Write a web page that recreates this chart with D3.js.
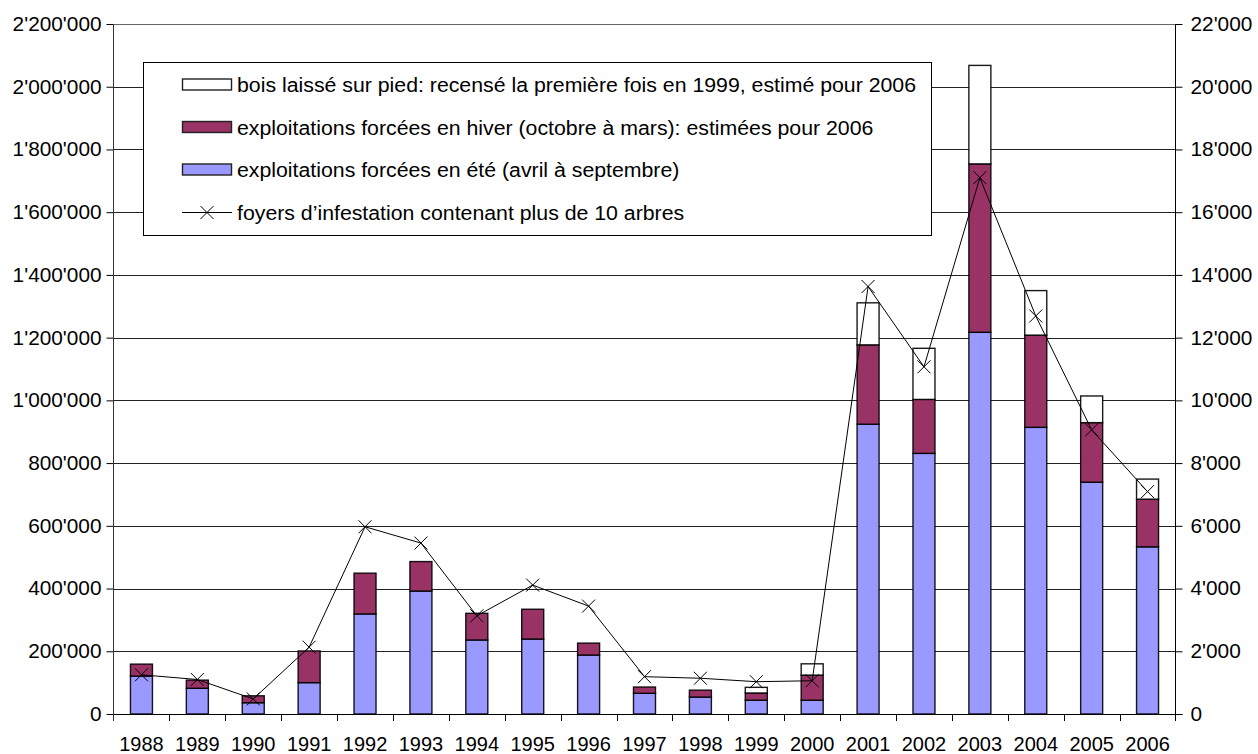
<!DOCTYPE html>
<html lang="fr">
<head>
    <meta charset="UTF-8">
    <title>Bostryche - exploitations forcées</title>
    <script src="https://d3js.org/d3.v7.min.js" charset="utf-8"></script>
    <style>
        body { margin: 0; background: white; }
        svg { display: block; font-family: "Liberation Sans", Arial, sans-serif; }
        .axis text { font-size: 20px; fill: #000; }
        .legend text { font-size: 20px; fill: #000; }
    </style>
</head>
<body>
<div id="chart"></div>
<script>
    // years on the x axis
    var annees = ['1988','1989','1990','1991','1992','1993','1994','1995','1996','1997',
                  '1998','1999','2000','2001','2002','2003','2004','2005','2006'];
    // exploitations forcées en été (m3)
    var ete = [121000, 82000, 36000, 100000, 319000, 392000, 236000, 239000, 188000, 66000,
               54000, 44000, 44000, 924000, 831000, 1217000, 914000, 739000, 533000];
    // exploitations forcées en hiver (m3)
    var hiver = [38000, 26000, 22000, 101000, 130000, 94000, 85000, 95000, 38000, 20000,
                 22000, 23000, 80000, 253000, 172000, 537000, 294000, 190000, 152000];
    // bois laissé sur pied (m3)
    var pied = [0, 0, 0, 0, 0, 0, 0, 0, 0, 0,
                0, 18000, 36000, 134000, 163000, 314000, 142000, 85000, 64000];
    // foyers d'infestation (right axis)
    var foyers = [1250, 1100, 480, 2130, 5970, 5450, 3130, 4110, 3440, 1190,
                  1140, 1030, 1060, 13630, 11070, 17100, 12690, 9060, 7090];

    var leftTicks = d3.range(0, 2200001, 200000);
    var rightTicks = d3.range(0, 22001, 2000);

    var legendLabels = [
        'bois laissé sur pied: recensé la première fois en 1999, estimé pour 2006',
        'exploitations forcées en hiver (octobre à mars): estimées pour 2006',
        'exploitations forcées en été (avril à septembre)',
        'foyers d\u2019infestation contenant plus de 10 arbres'
    ];

    var width = 1258, height = 754;
    var plotLeft = 113.5, plotRight = 1175.5, plotTop = 24, plotBottom = 714;

    var fmt = d3.formatLocale({decimal: '.', thousands: "'", grouping: [3], currency: ['', '']}).format(',');

    var svg = d3.select('#chart').append('svg')
        .attr('width', width)
        .attr('height', height);

    var x = d3.scaleBand().domain(annees).range([plotLeft, plotRight]);
    var y = d3.scaleLinear().domain([0, 2200000]).range([plotBottom, plotTop]);
    var y2 = d3.scaleLinear().domain([0, 22000]).range([plotBottom, plotTop]);

    var colors = {ete: '#9999ff', hiver: '#993366', pied: '#ffffff'};

    // widen a text a little, the original font is drawn slightly stretched
    function stretch(sel, k) {
        sel.each(function() {
            var w = this.getComputedTextLength();
            d3.select(this).attr('textLength', w * k).attr('lengthAdjust', 'spacingAndGlyphs');
        });
    }

    // gridlines
    svg.append('g')
        .selectAll('line')
        .data(leftTicks.slice(1))
        .enter().append('line')
        .attr('x1', plotLeft).attr('x2', plotRight)
        .attr('y1', d => Math.round(y(d)) + 0.5)
        .attr('y2', d => Math.round(y(d)) + 0.5)
        .attr('stroke', d => d === 2200000 ? '#666' : '#222')
        .attr('stroke-width', 1);

    // stacked bars
    var rows = annees.map((a, i) => ({annee: a, ete: ete[i], hiver: hiver[i], pied: pied[i]}));
    var stack = d3.stack().keys(['ete', 'hiver', 'pied']);
    var series = stack(rows);
    var barW = 22;

    svg.append('g')
        .selectAll('g')
        .data(series)
        .enter().append('g')
        .attr('fill', d => colors[d.key])
        .selectAll('rect')
        .data(d => d.filter(p => p[1] - p[0] > 0))
        .enter().append('rect')
        .attr('x', d => x(d.data.annee) + x.bandwidth() / 2 - barW / 2)
        .attr('width', barW)
        .attr('y', d => y(d[1]))
        .attr('height', d => y(d[0]) - y(d[1]))
        .attr('stroke', '#000')
        .attr('stroke-opacity', 0.9)
        .attr('stroke-width', 1.4);

    // left axis
    var yAxis = svg.append('g')
        .attr('class', 'axis')
        .attr('transform', 'translate(' + plotLeft + ',0)')
        .call(d3.axisLeft(y).tickValues(leftTicks).tickFormat(fmt).tickSize(7).tickPadding(5));
    // right axis
    var y2Axis = svg.append('g')
        .attr('class', 'axis')
        .attr('transform', 'translate(' + plotRight + ',0)')
        .call(d3.axisRight(y2).tickValues(rightTicks).tickFormat(fmt).tickSize(7).tickPadding(8));
    // bottom axis
    var xAxis = svg.append('g')
        .attr('class', 'axis')
        .attr('transform', 'translate(0,' + plotBottom + ')')
        .call(d3.axisBottom(x).tickSize(0).tickPadding(23));

    [yAxis, y2Axis].forEach(function(a) {
        a.select('.domain').remove();
        a.selectAll('line').attr('stroke', '#000');
        stretch(a.selectAll('text'), 1.04);
    });
    xAxis.select('.domain').remove();

    // axis lines and category separators
    svg.append('line')
        .attr('x1', plotLeft).attr('x2', plotLeft).attr('y1', plotTop).attr('y2', plotBottom + 7)
        .attr('stroke', '#333');
    svg.append('line')
        .attr('x1', plotRight).attr('x2', plotRight).attr('y1', plotTop).attr('y2', plotBottom + 7)
        .attr('stroke', '#000');
    svg.append('line')
        .attr('x1', plotLeft).attr('x2', plotRight + 7).attr('y1', plotBottom + 0.5).attr('y2', plotBottom + 0.5)
        .attr('stroke', '#000');
    svg.append('g')
        .selectAll('line')
        .data(annees.slice(1))
        .enter().append('line')
        .attr('x1', d => Math.round(x(d)) + 0.5).attr('x2', d => Math.round(x(d)) + 0.5)
        .attr('y1', plotBottom).attr('y2', plotBottom + 7)
        .attr('stroke', '#000');

    // foyers line
    var line = d3.line()
        .x((d, i) => x(annees[i]) + x.bandwidth() / 2)
        .y(d => y2(d));
    svg.append('path')
        .datum(foyers)
        .attr('fill', 'none')
        .attr('stroke', '#000')
        .attr('stroke-width', 1)
        .attr('d', line);

    var m = 6.5;
    function cross(g, cx, cy) {
        g.append('path')
            .attr('d', 'M' + (cx - m) + ',' + (cy - m) + 'L' + (cx + m) + ',' + (cy + m) +
                       'M' + (cx - m) + ',' + (cy + m) + 'L' + (cx + m) + ',' + (cy - m))
            .attr('stroke', '#000')
            .attr('stroke-width', 1);
    }
    var markers = svg.append('g');
    foyers.forEach(function(d, i) {
        cross(markers, x(annees[i]) + x.bandwidth() / 2, y2(d));
    });

    // legend
    var legend = svg.append('g').attr('class', 'legend');
    legend.append('rect')
        .attr('x', 143.5).attr('y', 62.5)
        .attr('width', 788).attr('height', 173)
        .attr('fill', 'white')
        .attr('stroke', '#000');

    var baseY = [92, 134.5, 177, 219.5];
    var swatchFill = [colors.pied, colors.hiver, colors.ete];
    legendLabels.forEach(function(label, i) {
        var cy = baseY[i] - 7.5;
        if (i < 3) {
            legend.append('rect')
                .attr('x', 182.5).attr('y', cy - 5.5)
                .attr('width', 49).attr('height', 11)
                .attr('fill', swatchFill[i])
                .attr('stroke', '#222')
                .attr('stroke-width', 1.4);
        } else {
            legend.append('line')
                .attr('x1', 182).attr('x2', 232)
                .attr('y1', cy + 0.5).attr('y2', cy + 0.5)
                .attr('stroke', '#000');
            cross(legend, 207, cy + 0.5);
        }
        legend.append('text')
            .attr('x', 237)
            .attr('y', baseY[i])
            .text(label);
    });
    stretch(legend.selectAll('text'), 1.064);
</script>
</body>
</html>
